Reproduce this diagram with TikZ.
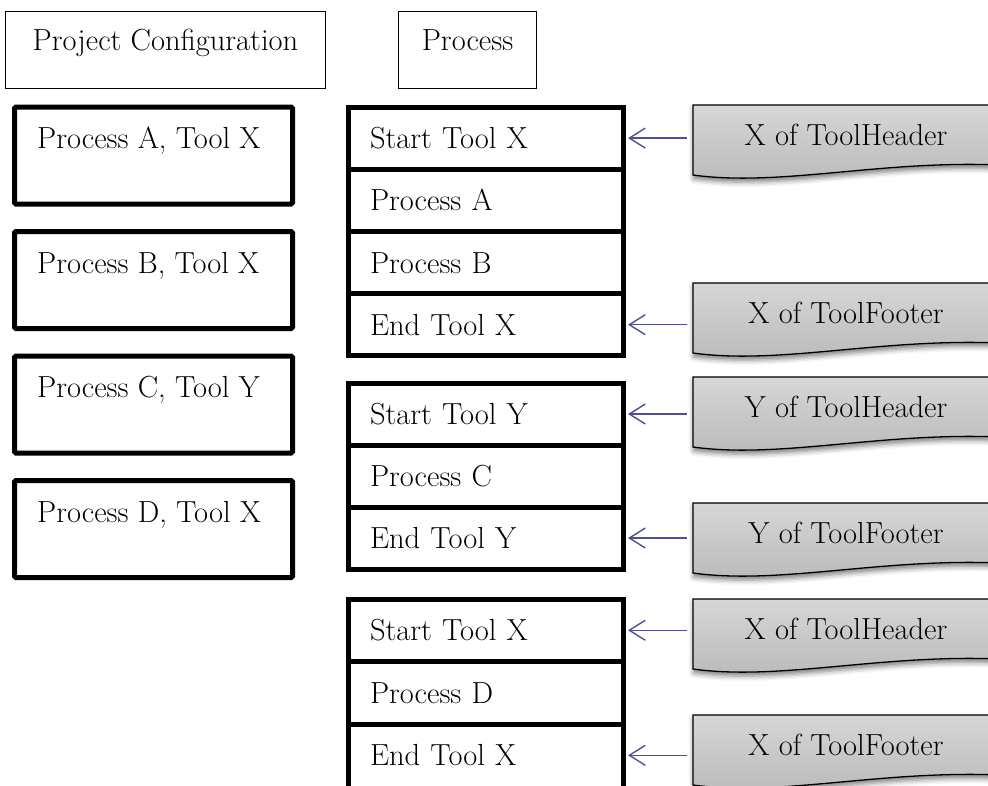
\documentclass[tikz,border=0pt]{standalone}
\usepackage{fontspec}
\usetikzlibrary{arrows.meta,calc,shadows.blur}
\definecolor{arrowblue}{RGB}{80,80,150}
\newcommand{\bigtext}{\fontsize{30.5}{36}\selectfont}
\tikzset{
  lbl/.style={font=\bigtext, inner sep=0pt, text height=21pt, text depth=0pt},
  headbox/.style={draw, line width=1pt, anchor=north west, inner sep=0pt},
  cfgbox/.style={draw, line width=5pt, rounded corners=1.5pt, anchor=north west,
    outer sep=0pt, inner sep=0pt, minimum width=278pt, minimum height=97pt},
  stagerow/.style={draw, line width=5pt, anchor=north west, outer sep=0pt,
    text width=231.5pt, inner xsep=22pt, inner ysep=0pt, align=left,
    font=\bigtext, text height=21pt, text depth=0pt},
  notebody/.style={draw, line width=1.3pt, top color=gray!32, bottom color=gray!55,
    blur shadow={shadow xshift=0.5pt, shadow yshift=-4pt, shadow blur radius=5pt, shadow opacity=50}},
  feed/.style={draw=arrowblue, line width=1.4pt, -{Straight Barb[length=16pt,width=20pt]}}
}
% grey note with a wavy lower edge: #1 top, #2 name, #3 text
\newcommand{\toolnote}[3]{%
  \path[notebody] (693,#1) -- (1000,#1) -- (1000,{#1+60})
    .. controls (880,{#1+55}) and (780,{#1+82}) .. (693,{#1+70}) -- cycle;
  \node[lbl] (#2) at (846,{#1+30}) {#3};
  \coordinate (#2-in) at (687,{#1+30});
}
\begin{document}
\begin{tikzpicture}[x=1pt, y=-1pt]
\useasboundingbox (0,0) rectangle (988,785);

% column headings
\node[headbox, minimum width=320pt, minimum height=77pt] (pc) at (5,11) {};
\node[lbl] (pct) at ($(pc.north)+(0,29)$) {Project Configuration};
\node[headbox, minimum width=138pt, minimum height=77pt] (pr) at (398,11) {};
\node[lbl] (prt) at ($(pr.north)+(0,29)$) {Process};

% project configuration entries
\node[cfgbox] (p1) at (14.5,107) {};
\node[lbl, anchor=west] (p1t) at ($(p1.north west)+(22.5,31)$) {Process A, Tool X};
\node[cfgbox] (p2) at (14.5,231.5) {};
\node[lbl, anchor=west] (p2t) at ($(p2.north west)+(22.5,31)$) {Process B, Tool X};
\node[cfgbox] (p3) at (14.5,356) {};
\node[lbl, anchor=west] (p3t) at ($(p3.north west)+(22.5,31)$) {Process C, Tool Y};
\node[cfgbox] (p4) at (14.5,480.5) {};
\node[lbl, anchor=west] (p4t) at ($(p4.north west)+(22.5,31)$) {Process D, Tool X};

% process sequence, tool X
\node[stagerow, minimum height=62.2pt] (r1) at (348,107) {Start Tool X};
\node[stagerow, minimum height=62.2pt] (r2) at (r1.south west) {Process A};
\node[stagerow, minimum height=62.2pt] (r3) at (r2.south west) {Process B};
\node[stagerow, minimum height=62.2pt] (r4) at (r3.south west) {End Tool X};

% process sequence, tool Y
\node[stagerow, minimum height=62pt] (s1) at (348,383) {Start Tool Y};
\node[stagerow, minimum height=62pt] (s2) at (s1.south west) {Process C};
\node[stagerow, minimum height=62pt] (s3) at (s2.south west) {End Tool Y};

% process sequence, tool X again (runs past the lower edge)
\node[stagerow, minimum height=62.5pt] (t1) at (348,599) {Start Tool X};
\node[stagerow, minimum height=62.5pt] (t2) at (t1.south west) {Process D};
\node[stagerow, minimum height=66pt, text depth=3.5pt] (t3) at (t2.south west) {End Tool X};

% header / footer notes
\toolnote{105}{n1}{X of ToolHeader}
\toolnote{283}{n2}{X of ToolFooter}
\toolnote{377}{n3}{Y of ToolHeader}
\toolnote{503}{n4}{Y of ToolFooter}
\toolnote{599}{n5}{X of ToolHeader}
\toolnote{715}{n6}{X of ToolFooter}

% links from notes to steps
\draw[feed] (n1-in |- r1.east) -- ([xshift=4.5pt]r1.east);
\draw[feed] (n2-in |- r4.east) -- ([xshift=4.5pt]r4.east);
\draw[feed] (n3-in |- s1.east) -- ([xshift=4.5pt]s1.east);
\draw[feed] (n4-in |- s3.east) -- ([xshift=4.5pt]s3.east);
\draw[feed] (n5-in |- t1.east) -- ([xshift=4.5pt]t1.east);
\draw[feed] ([yshift=1.7pt]n6-in |- t3.east) -- ([yshift=1.7pt,xshift=4.5pt]t3.east);
\end{tikzpicture}
\end{document}
